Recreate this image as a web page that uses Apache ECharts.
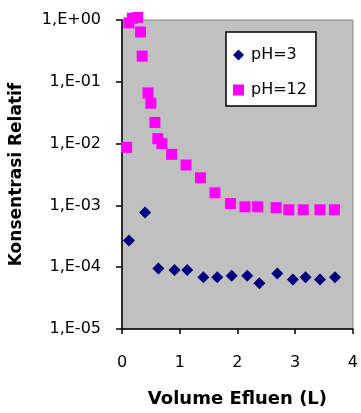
<!DOCTYPE html>
<html>
<head>
<meta charset="utf-8">
<script src="https://cdn.jsdelivr.net/npm/echarts@6/dist/echarts.min.js"></script>
<style>
html,body{margin:0;padding:0;background:#fff;}
#c{width:361px;height:413px;}
</style>
</head>
<body>
<div id="c"></div>
<script>
// Data
var pH3X = [0.12, 0.40, 0.63, 0.91, 1.13, 1.41, 1.65, 1.90, 2.17, 2.38, 2.69, 2.96, 3.18, 3.43, 3.69];
var pH3Y = [2.7e-4, 7.7e-4, 9.5e-5, 9.0e-5, 9.0e-5, 6.9e-5, 6.9e-5, 7.3e-5, 7.3e-5, 5.5e-5, 7.9e-5, 6.3e-5, 6.9e-5, 6.3e-5, 6.9e-5];
var pH12X = [0.08, 0.12, 0.18, 0.27, 0.32, 0.35, 0.45, 0.50, 0.57, 0.62, 0.69, 0.86, 1.11, 1.36, 1.61, 1.88, 2.13, 2.35, 2.67, 2.89, 3.14, 3.43, 3.68];
var pH12Y = [8.7e-3, 0.90, 1.07, 1.10, 0.64, 0.26, 0.066, 0.045, 0.022, 0.012, 0.010, 0.0067, 0.0045, 0.0028, 0.0016, 0.00107, 0.00095, 0.00095, 0.00092, 0.00085, 0.00085, 0.00085, 0.00085];
var yTickLabels = ['1,E-05', '1,E-04', '1,E-03', '1,E-02', '1,E-01', '1,E+00'];
var xTickLabels = ['0', '1', '2', '3', '4'];
var seriesNames = ['pH=3', 'pH=12'];
var xTitle = 'Volume Efluen (L)';
var yTitle = 'Konsentrasi Relatif';

function zip(xs, ys) { return xs.map(function (x, i) { return [x, ys[i]]; }); }

var font = 'DejaVu Sans';
var chart = echarts.init(document.getElementById('c'), null, {renderer: 'canvas'});
chart.setOption({
  animation: false,
  backgroundColor: '#ffffff',
  grid: {
    left: 120, top: 20, right: 3, bottom: 80,
    show: true, backgroundColor: '#C0C0C0', borderColor: '#808080', borderWidth: 1,
    containLabel: false
  },
  legend: {
    left: 226, top: 32,
    orient: 'vertical',
    backgroundColor: '#ffffff',
    borderColor: '#000000', borderWidth: 1.5, borderRadius: 0,
    padding: [15, 9, 8, 7],
    itemGap: 19,
    itemWidth: 11, itemHeight: 11,
    textStyle: {fontFamily: font, fontSize: 16, color: '#000', padding: [0, 0, 0, 2]},
    data: [
      {name: seriesNames[0], icon: 'diamond'},
      {name: seriesNames[1], icon: 'rect'}
    ]
  },
  xAxis: {
    type: 'value', min: 0, max: 4, interval: 1,
    name: xTitle, nameLocation: 'middle', nameGap: 61,
    nameTextStyle: {fontFamily: font, fontSize: 18, fontWeight: 'bold', color: '#000'},
    axisLine: {show: true, onZero: false, lineStyle: {color: '#000', width: 1.5}},
    axisTick: {show: true, inside: false, length: 5, lineStyle: {color: '#000', width: 1.5}},
    axisLabel: {
      margin: 26, fontFamily: font, fontSize: 16, color: '#000',
      formatter: function (v) { return xTickLabels[Math.round(v)]; }
    },
    splitLine: {show: false}
  },
  yAxis: {
    type: 'log', logBase: 10, min: 1e-5, max: 1, interval: 1,
    name: yTitle, nameLocation: 'middle', nameGap: 97, nameRotate: 90,
    nameTextStyle: {fontFamily: font, fontSize: 17, fontWeight: 'bold', color: '#000'},
    axisLine: {show: true, onZero: false, lineStyle: {color: '#000', width: 1.5}},
    axisTick: {show: true, inside: false, length: 6, lineStyle: {color: '#000', width: 1.5}},
    axisLabel: {
      margin: 21, fontFamily: font, fontSize: 16, color: '#000',
      formatter: function (v) {
        var e = Math.round(Math.log10(v));
        return yTickLabels[e + 5];
      }
    },
    splitLine: {show: false},
    minorTick: {show: false}
  },
  series: [
    {
      name: seriesNames[0], type: 'scatter', symbol: 'diamond', symbolSize: 12,
      itemStyle: {color: '#000080', opacity: 1}, clip: false,
      data: zip(pH3X, pH3Y)
    },
    {
      name: seriesNames[1], type: 'scatter', symbol: 'rect', symbolSize: 11,
      itemStyle: {color: '#FF00FF', opacity: 1}, clip: false,
      data: zip(pH12X, pH12Y)
    }
  ]
});
</script>
</body>
</html>
